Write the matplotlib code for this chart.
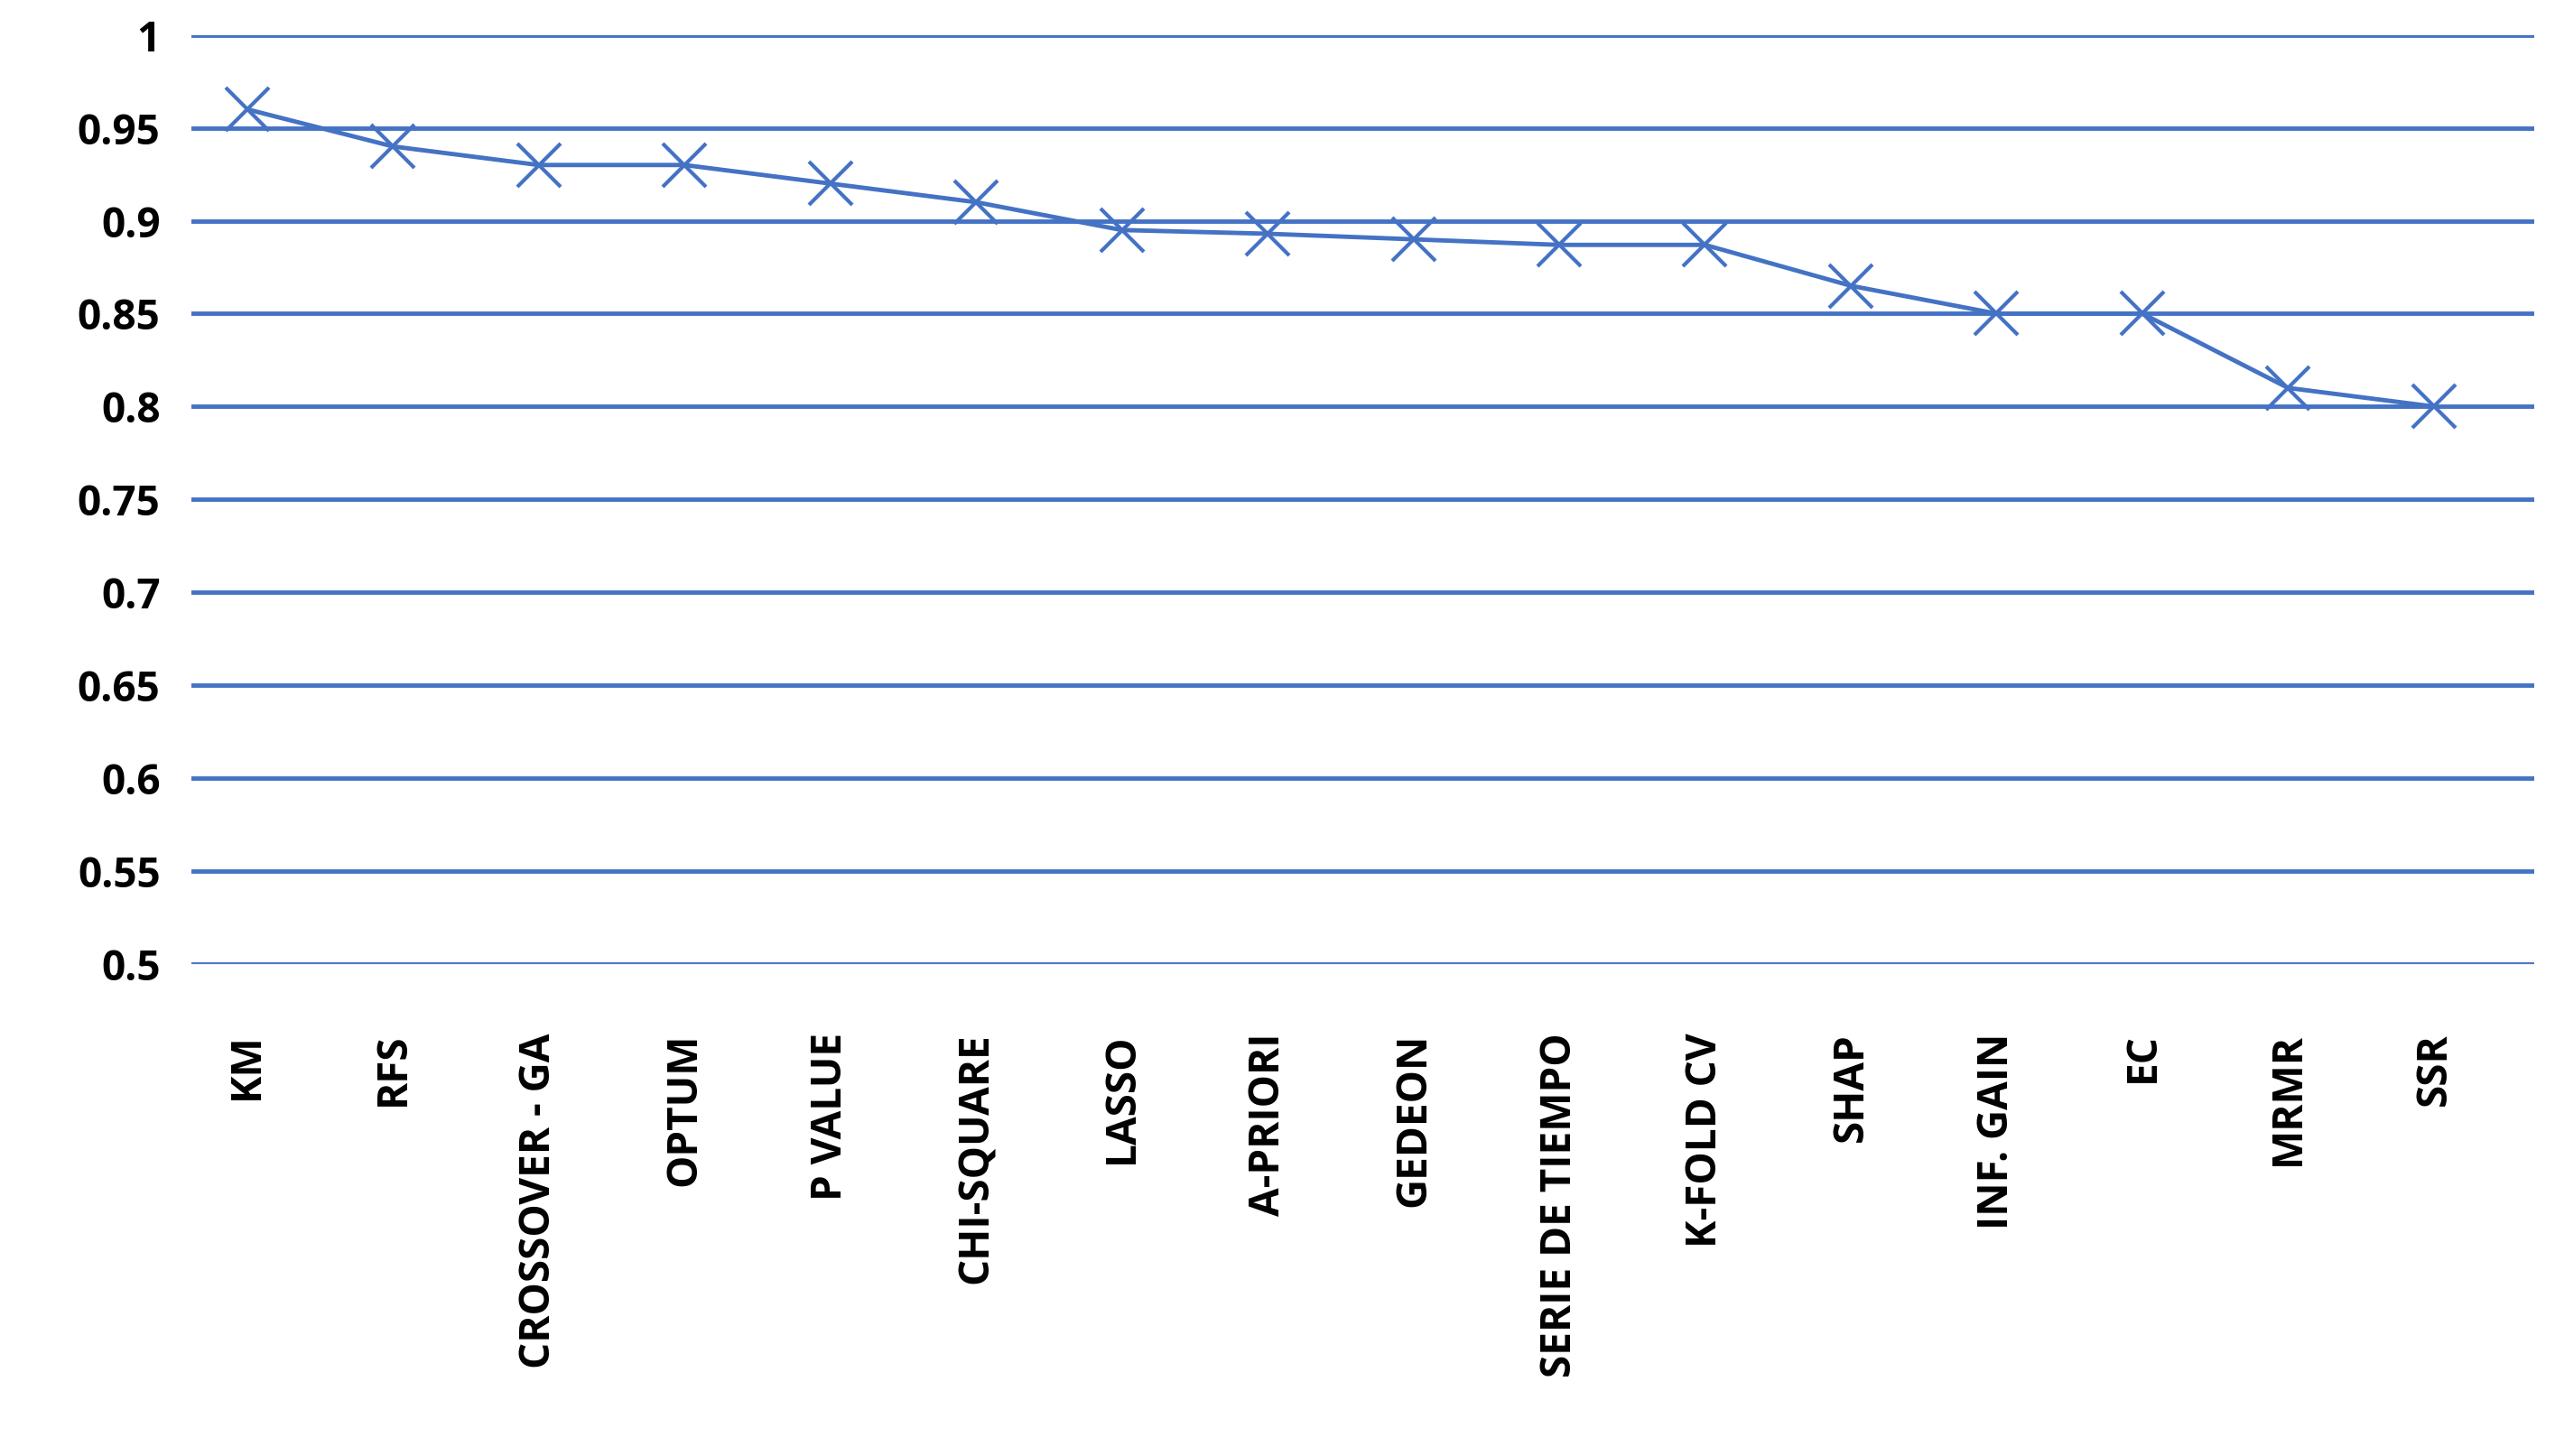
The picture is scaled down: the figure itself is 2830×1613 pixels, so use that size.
import matplotlib
matplotlib.use("Agg")
import matplotlib.pyplot as plt

categories = ["KM", "RFS", "CROSSOVER - GA", "OPTUM", "P VALUE", "CHI-SQUARE", "LASSO",
              "A-PRIORI", "GEDEON", "SERIE DE TIEMPO", "K-FOLD CV", "SHAP", "INF. GAIN",
              "EC", "MRMR", "SSR"]
values = [0.96, 0.94, 0.93, 0.93, 0.92, 0.91, 0.895, 0.893, 0.89, 0.887, 0.887,
          0.865, 0.85, 0.85, 0.81, 0.80]
yticks = [0.5, 0.55, 0.6, 0.65, 0.7, 0.75, 0.8, 0.85, 0.9, 0.95, 1.0]
yticklabels = ["0.5", "0.55", "0.6", "0.65", "0.7", "0.75", "0.8", "0.85", "0.9", "0.95", "1"]

blue = "#4472C4"
plt.rcParams['font.family'] = ['Open Sans', 'DejaVu Sans']
fig = plt.figure(figsize=(28.30, 16.13), dpi=100)
ax = fig.add_axes([0.075, 0.338, 0.917, 0.638])
x = list(range(len(categories)))
ax.plot(x, values, color=blue, lw=3.5, marker='x', markersize=34, markeredgewidth=3, zorder=3)
ax.set_xlim(-0.38, 15.69)
ax.set_ylim(0.5, 1.0)
ax.set_yticks(yticks)
ax.set_yticklabels(yticklabels, fontsize=33, fontweight='bold')
ax.set_xticks(x)
ax.set_xticklabels(categories, rotation=90, fontsize=33, fontweight='bold', va='top')
ax.yaxis.grid(True, color=blue, lw=3.5)
ax.set_axisbelow(True)
for s in ax.spines.values():
    s.set_visible(False)
ax.spines['bottom'].set_visible(True)
ax.spines['bottom'].set_color('#EEEEEE')
ax.tick_params(axis='x', length=0, pad=55)
ax.tick_params(axis='y', length=0, pad=25)
fig.savefig("out.png", dpi=100)
